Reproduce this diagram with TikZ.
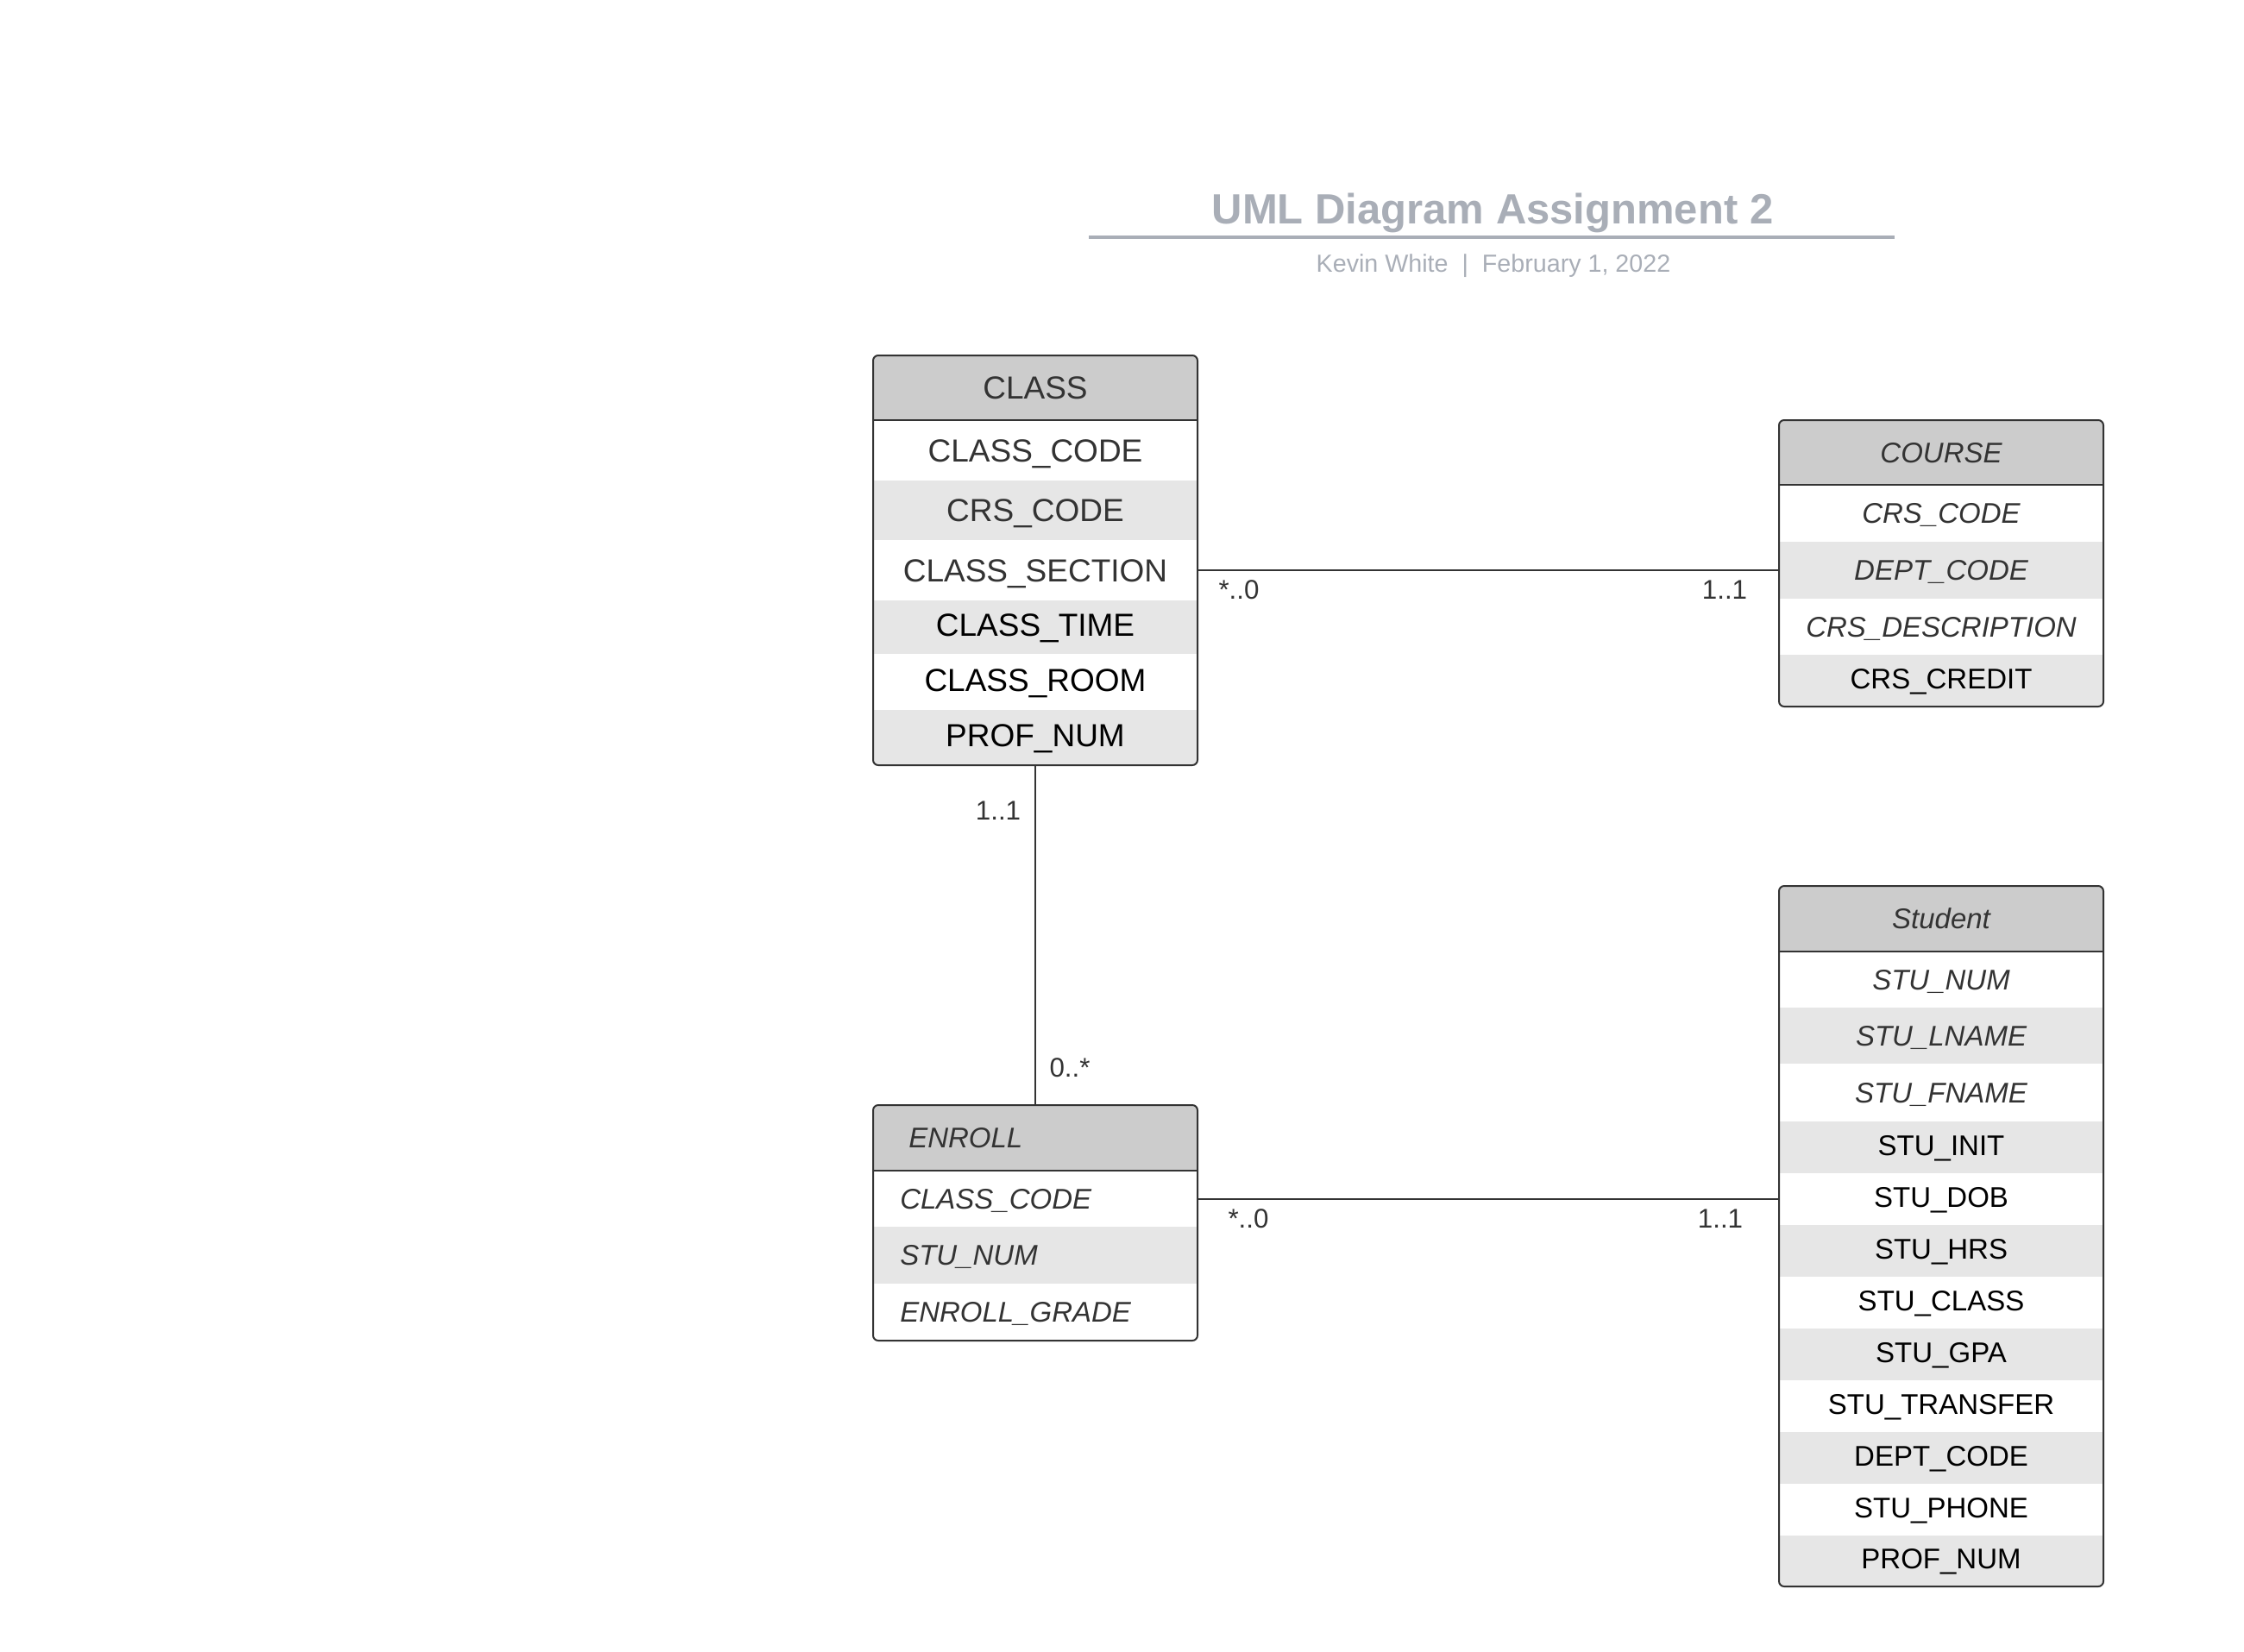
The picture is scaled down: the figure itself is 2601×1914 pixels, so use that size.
\documentclass[tikz,border=0pt]{standalone}
\usepackage{fontspec}
\setmainfont{Liberation Sans}
\definecolor{hdrfill}{HTML}{CCCCCC}
\definecolor{altfill}{HTML}{E6E6E6}
\definecolor{bordc}{HTML}{333333}
\definecolor{darktxt}{HTML}{333333}
\definecolor{titlec}{HTML}{A9AEB7}
\begin{document}
\begin{tikzpicture}[x=0.75pt,y=-0.75pt,
  rowbox/.style={inner sep=0pt, outer sep=0pt, minimum width=282pt, text depth=0pt},
  hdrrow/.style={rowbox, fill=hdrfill},
  plainrow/.style={rowbox, fill=white},
  altrow/.style={rowbox, fill=altfill},
  bigf/.style={font=\fontsize{27.75pt}{32pt}\selectfont, text height=19.9pt, text depth=0pt},
  medf/.style={font=\fontsize{24.75pt}{29pt}\selectfont, text height=17.7pt, text depth=0pt},
  medi/.style={font=\fontsize{24.75pt}{29pt}\selectfont\itshape, text height=17.7pt, text depth=0pt},
  dk/.style={text=darktxt},
  bk/.style={text=black, text depth=3.5pt},
  outline/.style={draw=bordc, line width=1.5pt, rounded corners=4.5pt, inner sep=0pt, outer sep=0pt, minimum width=282pt, fill=none},
  divider/.style={draw=bordc, line width=1.5pt},
  conn/.style={draw=bordc, line width=1.5pt},
  mult/.style={font=\fontsize{23.5pt}{28pt}\selectfont, text=darktxt, inner sep=0pt, text height=16.8pt, text depth=0pt},
  txtleft/.style={anchor=west, inner sep=0pt}
]
\useasboundingbox (0,0) rectangle (2601,1914);

% ---------- Title ----------
\node[font=\fontsize{36.75pt}{42pt}\selectfont\bfseries, text=titlec, inner sep=0pt, text height=26.3pt, text depth=0pt] (title) at (1730,242) {UML Diagram Assignment 2};
\coordinate (tl) at (1262,275);
\coordinate (tr) at (2196,275);
\draw[titlec, line width=3pt] (tl) -- (tr);
\node[font=\fontsize{21.5pt}{26pt}\selectfont, text=titlec, inner sep=0pt, text height=15.4pt, text depth=0pt] (subtitle) at (1731,305) {Kevin White~~|~~February 1, 2022};

% ---------- CLASS ----------
\begin{scope}
\clip[rounded corners=4.5pt] (1012,412) rectangle (1388,887);
\node[hdrrow, minimum height=56.75pt, bigf, dk] (clsh) at (1200,449.5) {CLASS};
\node[plainrow, minimum height=53pt, bigf, dk] (cls1) at (1200,522) {CLASS\_CODE};
\node[altrow, minimum height=52.25pt, bigf, dk] (cls2) at (1200,591.5) {CRS\_CODE};
\node[plainrow, minimum height=53pt, bigf, dk] (cls3) at (1200,661) {CLASS\_SECTION};
\node[altrow, minimum height=47pt, bigf, bk] (cls4) at (1200,727) {CLASS\_TIME};
\node[plainrow, minimum height=49.25pt, bigf, bk] (cls5) at (1200,790.5) {CLASS\_ROOM};
\node[altrow, minimum height=48.5pt, bigf, bk] (cls6) at (1200,855) {PROF\_NUM};
\end{scope}
\node[outline, minimum height=356.25pt] (clsbox) at (1200,649.5) {};
\draw[divider] (clsh.south west) -- (clsh.south east);

% ---------- COURSE ----------
\begin{scope}
\clip[rounded corners=4.5pt] (2062,487) rectangle (2438,819);
\node[hdrrow, minimum height=56.75pt, medi, dk] (crsh) at (2250,524.5) {COURSE};
\node[plainrow, minimum height=50pt, medi, dk] (crs1) at (2250,595) {CRS\_CODE};
\node[altrow, minimum height=50pt, medi, dk] (crs2) at (2250,661) {DEPT\_CODE};
\node[plainrow, minimum height=49.25pt, medi, dk] (crs3) at (2250,726.5) {CRS\_DESCRIPTION};
\node[altrow, minimum height=45.5pt, medf, bk] (crs4) at (2250,789) {CRS\_CREDIT};
\end{scope}
\node[outline, minimum height=249pt] (crsbox) at (2250,653) {};
\draw[divider] (crsh.south west) -- (crsh.south east);

% ---------- ENROLL ----------
\begin{scope}
\clip[rounded corners=4.5pt] (1012,1281) rectangle (1388,1554);
\node[hdrrow, minimum height=57.5pt] (enrh) at (1200,1319) {};
\node[plainrow, minimum height=49.25pt] (enr1) at (1200,1389.5) {};
\node[altrow, minimum height=50pt] (enr2) at (1200,1455) {};
\node[plainrow, minimum height=50pt] (enr3) at (1200,1521) {};
\end{scope}
\node[txtleft, medi, dk] (enrht) at (1053,1319) {ENROLL};
\node[txtleft, medi, dk] (enr1t) at (1043,1389.5) {CLASS\_CODE};
\node[txtleft, medi, dk] (enr2t) at (1043,1455) {STU\_NUM};
\node[txtleft, medi, dk] (enr3t) at (1043,1521) {ENROLL\_GRADE};
\node[outline, minimum height=204.75pt] (enrbox) at (1200,1417.5) {};
\draw[divider] (enrh.south west) -- (enrh.south east);

% ---------- Student ----------
\begin{scope}
\clip[rounded corners=4.5pt] (2062,1027) rectangle (2438,1839);
\node[hdrrow, minimum height=57.5pt, medi, dk] (stuh) at (2250,1065) {Student};
\node[plainrow, minimum height=49.25pt, medi, dk] (stu1) at (2250,1135.5) {STU\_NUM};
\node[altrow, minimum height=49.25pt, medi, dk] (stu2) at (2250,1200.5) {STU\_LNAME};
\node[plainrow, minimum height=50.75pt, medi, dk] (stu3) at (2250,1266.5) {STU\_FNAME};
\node[altrow, minimum height=45.5pt, medf, bk] (stu4) at (2250,1330) {STU\_INIT};
\node[plainrow, minimum height=45.5pt, medf, bk] (stu5) at (2250,1390) {STU\_DOB};
\node[altrow, minimum height=45.5pt, medf, bk] (stu6) at (2250,1450) {STU\_HRS};
\node[plainrow, minimum height=45.5pt, medf, bk] (stu7) at (2250,1510) {STU\_CLASS};
\node[altrow, minimum height=45.5pt, medf, bk] (stu8) at (2250,1570) {STU\_GPA};
\node[plainrow, minimum height=45.5pt, medf, bk] (stu9) at (2250,1630) {STU\_TRANSFER};
\node[altrow, minimum height=45.5pt, medf, bk] (stu10) at (2250,1690) {DEPT\_CODE};
\node[plainrow, minimum height=45.5pt, medf, bk] (stu11) at (2250,1750) {STU\_PHONE};
\node[altrow, minimum height=44.75pt, medf, bk] (stu12) at (2250,1809.5) {PROF\_NUM};
\end{scope}
\node[outline, minimum height=609pt] (stubox) at (2250,1433) {};
\draw[divider] (stuh.south west) -- (stuh.south east);

% ---------- Connectors ----------
\draw[conn] (cls3.east) -- (crs2.west);
\draw[conn] (cls6.south) -- (enrh.north);
\draw[conn] (enr1.east) -- (enr1.east -| stu5.west);

% ---------- Multiplicities ----------
\node[mult] (m1) at (1436,683) {*..0};
\node[mult] (m2) at (1999,683) {1..1};
\node[mult] (m3) at (1157,939) {1..1};
\node[mult] (m4) at (1240,1237) {0..*};
\node[mult] (m5) at (1447,1412) {*..0};
\node[mult] (m6) at (1994,1412) {1..1};
\end{tikzpicture}
\end{document}
